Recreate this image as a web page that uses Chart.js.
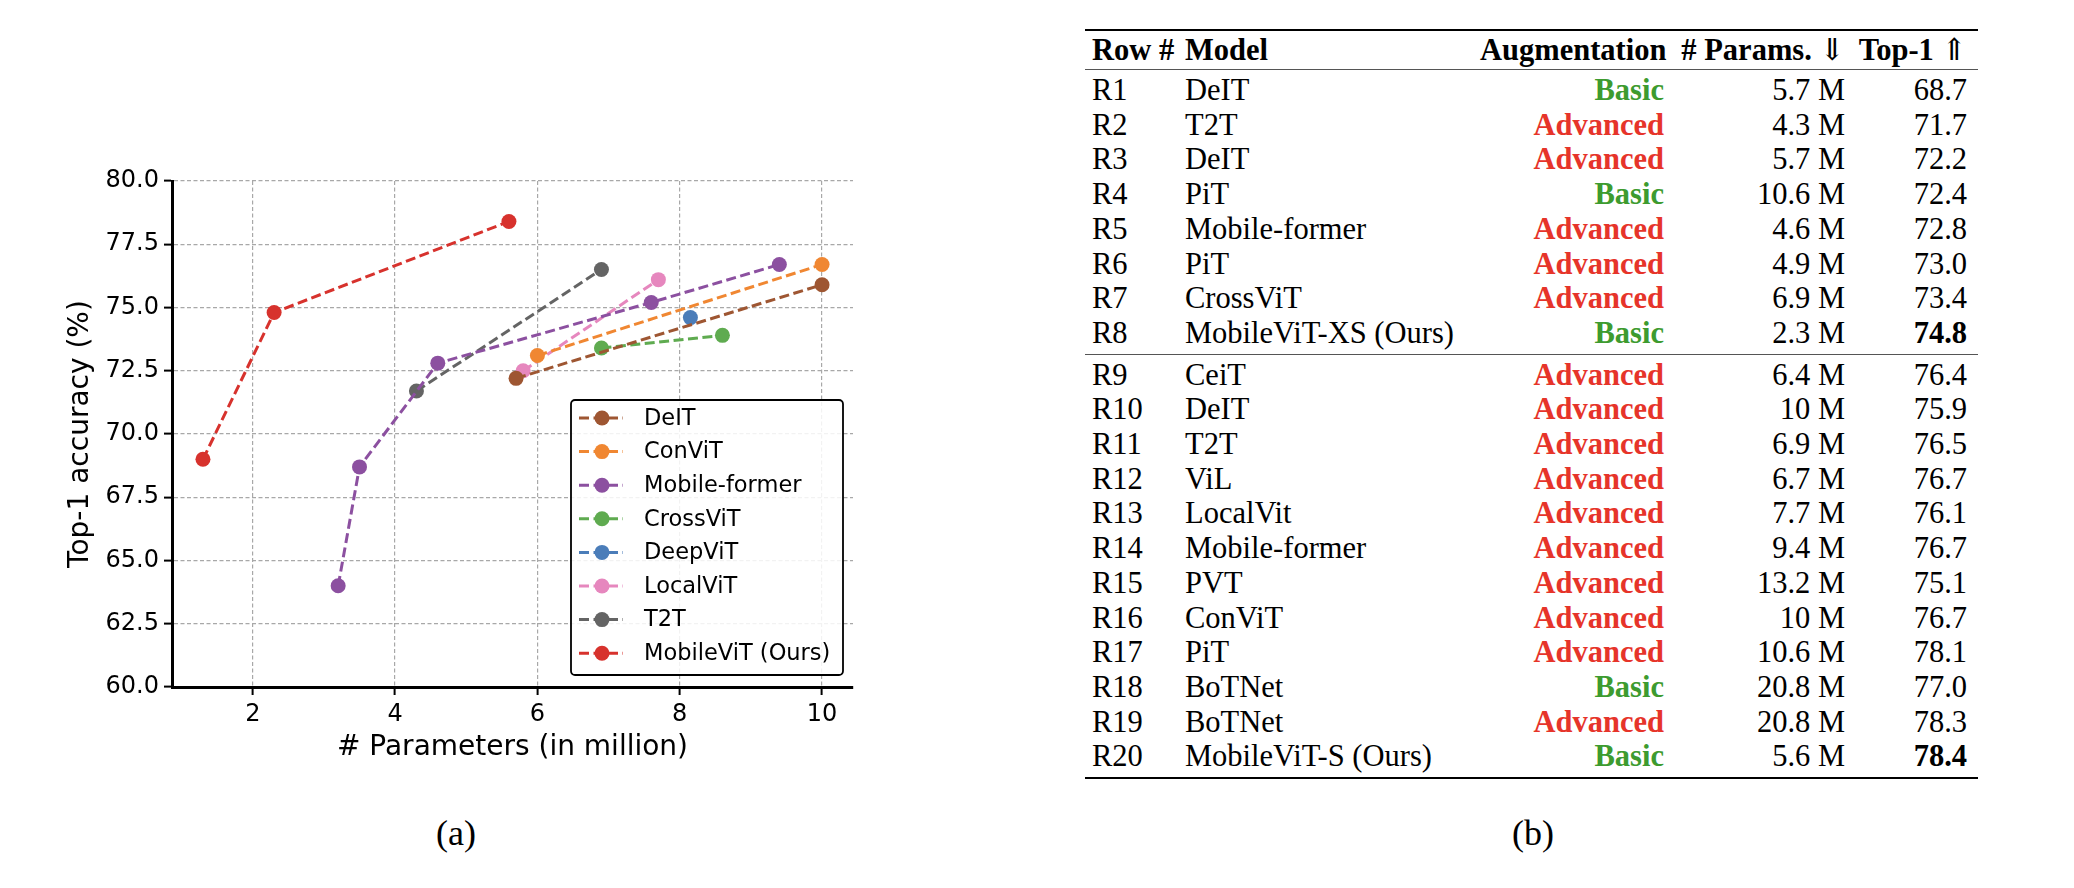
<!DOCTYPE html>
<html>
<head>
<meta charset="utf-8">
<script src="https://cdn.jsdelivr.net/npm/chart.js@4"></script>
<style>
  body { margin:0; background:#fff; width:2074px; height:888px; position:relative; overflow:hidden; }
  #chartBox { position:absolute; left:0; top:0; width:880px; height:780px; }
  .caption { position:absolute; top:812px; font-family:"Liberation Serif", serif; font-size:36px; color:#000; }
  #tbl { position:absolute; left:1085px; top:29px; width:893px; border-collapse:collapse; table-layout:fixed;
         font-family:"Liberation Serif", "DejaVu Serif", serif; font-size:30.5px; color:#000; }
  #tbl td, #tbl th { padding:0; height:34.7px; line-height:34.7px; white-space:nowrap; }
  #tbl thead tr { border-top:2px solid #000; border-bottom:1.3px solid #555; }
  #tbl th { height:38px; font-weight:bold; }
  #tbl .first td { padding-top:3px; }
  #tbl .last td { padding-bottom:3px; }
  #tbl tbody.g1 { border-bottom:1.3px solid #555; }
  #tbl tbody.g2 { border-bottom:2px solid #000; }
  .c1 { text-align:left; padding-left:7px !important; }
  .c2 { text-align:left; }
  .c3 { text-align:right; padding-right:6px !important; }
  .c4 { text-align:right; padding-right:5px !important; }
  .c5 { text-align:right; padding-right:11px !important; }
  .basic { color:#3d9b2f; font-weight:bold; }
  .adv { color:#e6342a; font-weight:bold; }
  .arrow { font-family:"DejaVu Serif", serif; font-weight:normal; }
</style>
</head>
<body>
<div id="chartBox"><canvas id="accChart"></canvas></div>
<div class="caption" style="left:436px;">(a)</div>
<table id="tbl">
  <colgroup><col style="width:100px"><col style="width:295px"><col style="width:190px"><col style="width:180px"><col style="width:128px"></colgroup>
  <thead><tr>
    <th class="c1">Row #</th><th class="c2">Model</th><th class="c3">Augmentation</th>
    <th class="c4"># Params. <span class="arrow">⇓</span></th><th class="c5">Top-1 <span class="arrow">⇑</span></th>
  </tr></thead>
  <tbody class="g1" id="group1"></tbody>
  <tbody class="g2" id="group2"></tbody>
</table>
<div class="caption" style="left:1512px;">(b)</div>

<script>
// chart (a): params in million vs top-1 accuracy
var seriesNames = ['DeIT', 'ConViT', 'Mobile-former', 'CrossViT', 'DeepViT', 'LocalViT', 'T2T', 'MobileViT (Ours)'];
var seriesColors = ['#9e5632', '#f08732', '#8c50a0', '#5fab50', '#4b7db9', '#e687be', '#646464', '#d7322d'];

var deitParams = [5.7, 10.0];
var deitTop1 = [72.2, 75.9];
var convitParams = [6.0, 10.0];
var convitTop1 = [73.1, 76.7];
var mformerParams = [3.2, 3.5, 4.6, 7.6, 9.4];
var mformerTop1 = [64.0, 68.7, 72.8, 75.2, 76.7];
var crossvitParams = [6.9, 8.6];
var crossvitTop1 = [73.4, 73.9];
var deepvitParams = [8.15];
var deepvitTop1 = [74.6];
var localvitParams = [5.8, 7.7];
var localvitTop1 = [72.5, 76.1];
var t2tParams = [4.3, 6.9];
var t2tTop1 = [71.7, 76.5];
var mobilevitParams = [1.3, 2.3, 5.6];
var mobilevitTop1 = [69.0, 74.8, 78.4];

var xTicks = [2, 4, 6, 8, 10];
var yTicks = [60, 62.5, 65, 67.5, 70, 72.5, 75, 77.5, 80];

// table (b)
var rowIds = ['R1','R2','R3','R4','R5','R6','R7','R8','R9','R10','R11','R12','R13','R14','R15','R16','R17','R18','R19','R20'];
var rowModels = ['DeIT','T2T','DeIT','PiT','Mobile-former','PiT','CrossViT','MobileViT-XS (Ours)',
                 'CeiT','DeIT','T2T','ViL','LocalVit','Mobile-former','PVT','ConViT','PiT','BoTNet','BoTNet','MobileViT-S (Ours)'];
var rowAug = ['Basic','Advanced','Advanced','Basic','Advanced','Advanced','Advanced','Basic',
              'Advanced','Advanced','Advanced','Advanced','Advanced','Advanced','Advanced','Advanced','Advanced','Basic','Advanced','Basic'];
var rowParams = ['5.7 M','4.3 M','5.7 M','10.6 M','4.6 M','4.9 M','6.9 M','2.3 M',
                 '6.4 M','10 M','6.9 M','6.7 M','7.7 M','9.4 M','13.2 M','10 M','10.6 M','20.8 M','20.8 M','5.6 M'];
var rowTop1 = ['68.7','71.7','72.2','72.4','72.8','73.0','73.4','74.8',
               '76.4','75.9','76.5','76.7','76.1','76.7','75.1','76.7','78.1','77.0','78.3','78.4'];
var boldRows = ['R8', 'R20'];

function fillGroup(id, from, to) {
  var body = document.getElementById(id);
  for (var i = from; i <= to; i++) {
    var tr = document.createElement('tr');
    if (i == from) tr.className = 'first';
    if (i == to) tr.className = 'last';
    var top1 = boldRows.indexOf(rowIds[i]) >= 0 ? '<b>' + rowTop1[i] + '</b>' : rowTop1[i];
    tr.innerHTML = '<td class="c1">' + rowIds[i] + '</td>' +
      '<td class="c2">' + rowModels[i] + '</td>' +
      '<td class="c3 ' + (rowAug[i] == 'Basic' ? 'basic' : 'adv') + '">' + rowAug[i] + '</td>' +
      '<td class="c4">' + rowParams[i] + '</td>' +
      '<td class="c5">' + top1 + '</td>';
    body.appendChild(tr);
  }
}
fillGroup('group1', 0, 7);
fillGroup('group2', 8, 19);

function toPoints(xs, ys) {
  return xs.map(function (x, i) { return {x: x, y: ys[i]}; });
}

var allParams = [deitParams, convitParams, mformerParams, crossvitParams, deepvitParams, localvitParams, t2tParams, mobilevitParams];
var allTop1 = [deitTop1, convitTop1, mformerTop1, crossvitTop1, deepvitTop1, localvitTop1, t2tTop1, mobilevitTop1];

var datasets = seriesNames.map(function (name, i) {
  return {
    label: name,
    data: toPoints(allParams[i], allTop1[i]),
    showLine: true,
    borderColor: seriesColors[i],
    backgroundColor: seriesColors[i],
    borderWidth: 3,
    borderDash: [10, 4.5],
    pointRadius: 7.5,
    pointBorderWidth: 0,
    pointHoverRadius: 7.5
  };
});

// legend box drawn inside the plot, lower right (like matplotlib)
var insetLegend = {
  id: 'insetLegend',
  afterDraw: function (chart) {
    var ctx = chart.ctx, area = chart.chartArea;
    var rowH = 33.6, boxW = 272, boxH = 275;
    var right = area.right - 10, bottom = area.bottom - 12;
    var left = right - boxW, top = bottom - boxH;
    ctx.save();
    ctx.beginPath();
    ctx.roundRect(left, top, boxW, boxH, 4);
    ctx.fillStyle = 'rgba(255,255,255,0.85)';
    ctx.fill();
    ctx.lineWidth = 1.8;
    ctx.strokeStyle = '#000';
    ctx.stroke();
    ctx.font = '22.5px "DejaVu Sans"';
    ctx.textBaseline = 'middle';
    chart.data.datasets.forEach(function (ds, i) {
      var y = top + 18 + rowH * i;
      ctx.strokeStyle = ds.borderColor;
      ctx.lineWidth = 3;
      ctx.setLineDash([10, 4.5]);
      ctx.beginPath();
      ctx.moveTo(left + 8, y);
      ctx.lineTo(left + 52, y);
      ctx.stroke();
      ctx.setLineDash([]);
      ctx.fillStyle = ds.backgroundColor;
      ctx.beginPath();
      ctx.arc(left + 31, y, 7.5, 0, Math.PI * 2);
      ctx.fill();
      ctx.fillStyle = '#000';
      ctx.fillText(ds.label, left + 73, y + 1);
    });
    ctx.restore();
  }
};

var ctx = document.getElementById('accChart').getContext('2d');
var chart = new Chart(ctx, {
  type: 'scatter',
  data: { datasets: datasets },
  options: {
    responsive: true,
    maintainAspectRatio: false,
    animation: false,
    devicePixelRatio: 1,
    layout: { padding: { top: 181, right: 27, bottom: 0, left: 0 } },
    plugins: { legend: { display: false }, tooltip: { enabled: false } },
    scales: {
      x: {
        type: 'linear',
        min: 0.865,
        max: 10.435,
        afterBuildTicks: function (s) { s.ticks = xTicks.map(function (v) { return {value: v}; }); },
        afterFit: function (s) { s.height = 93; },
        ticks: { color: '#000', font: { family: 'DejaVu Sans', size: 24 }, padding: 5, maxRotation: 0,
                 callback: function (v) { return String(v); } },
        grid: { color: '#a8a8a8', lineWidth: 1.2, tickColor: '#000', tickWidth: 2, tickLength: 8, tickBorderDash: [] },
        border: { display: true, color: '#000', width: 3, dash: [4, 2.5] },
        title: { display: true, text: '# Parameters (in million)', color: '#000',
                 font: { family: 'DejaVu Sans', size: 28 }, padding: { top: 0, bottom: 15 } }
      },
      y: {
        type: 'linear',
        min: 60,
        max: 80,
        afterBuildTicks: function (s) { s.ticks = yTicks.map(function (v) { return {value: v}; }); },
        afterFit: function (s) { s.width = 172; },
        ticks: { color: '#000', font: { family: 'DejaVu Sans', size: 24 }, padding: 5,
                 callback: function (v) { return Number(v).toFixed(1); } },
        grid: { color: '#a8a8a8', lineWidth: 1.2, tickColor: '#000', tickWidth: 2, tickLength: 8, tickBorderDash: [] },
        border: { display: true, color: '#000', width: 3, dash: [4, 2.5] },
        title: { display: true, text: 'Top-1 accuracy (%)', color: '#000',
                 font: { family: 'DejaVu Sans', size: 28 }, padding: { top: 64, bottom: 0 } }
      }
    }
  },
  plugins: [insetLegend]
});
</script>
</body>
</html>
